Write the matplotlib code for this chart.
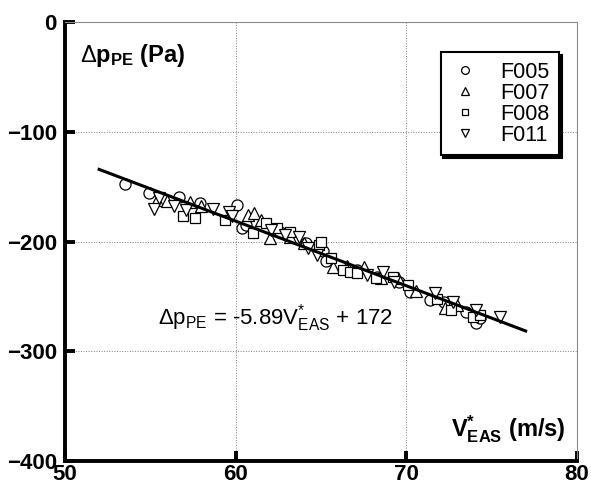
import numpy as np
import matplotlib
matplotlib.use('Agg')
import matplotlib.pyplot as plt

plt.rcParams['font.family'] = ['Liberation Sans', 'DejaVu Sans']
plt.rcParams['mathtext.fontset'] = 'custom'
plt.rcParams['mathtext.rm'] = 'Liberation Sans'
plt.rcParams['mathtext.it'] = 'Liberation Sans'
plt.rcParams['mathtext.bf'] = 'Liberation Sans:bold'

# flight data: V*_EAS (m/s), delta p_PE (Pa)
f005_v = [53.5, 54.9, 56.7, 57.9, 60.1, 60.35, 60.6, 62.6, 64.15, 65.1, 65.3,
          67.1, 68.3, 69.6, 70.2, 71.4, 72.2, 73.5, 74.1, 74.3]
f005_p = [-148, -156, -159, -165, -167, -188, -185, -191, -201.6, -209, -218,
          -226, -232, -237, -245.7, -253, -255, -264, -274.5, -270]

f007_v = [55.4, 56.0, 57.3, 58.0, 60.7, 61.1, 61.5, 62.0, 63.2, 64.0, 65.7,
          66.5, 67.5, 68.5, 69.5, 70.6, 72.3, 73.0, 74.0]
f007_p = [-162, -163, -164, -168, -176, -174, -180, -197, -196, -201, -223,
          -222, -223, -233, -233.5, -245, -261, -258, -265]

f008_v = [56.9, 57.6, 59.4, 61.0, 61.8, 62.4, 63.2, 64.9, 65.0, 65.6, 66.3,
          66.7, 67.1, 68.2, 69.2, 70.1, 71.8, 72.65, 73.9, 74.3]
f008_p = [-177, -179, -180, -192.6, -183, -188, -191, -203, -200, -215, -226,
          -227.5, -229, -233.5, -232, -239.6, -252, -262, -268.5, -267]

f011_v = [55.2, 55.5, 56.4, 57.1, 58.7, 59.6, 59.8, 62.1, 62.9, 63.7, 64.25,
          64.75, 67.7, 68.65, 69.3, 71.7, 72.75, 74.1, 75.5]
f011_p = [-170, -160, -168, -171, -170, -173, -177, -189.5, -194, -196, -206,
          -212, -230.5, -227.5, -236.6, -247, -255, -262, -268.5]

# linear fit shown on the chart
fit_slope = -5.89
fit_icept = 172
fit_v = np.array([52.0, 77.0])

fig = plt.figure(figsize=(5.91, 4.87), dpi=100)
ax = fig.add_axes([0.110, 0.0534, 0.866, 0.9014])

ms = 8
mew = 0.9
ax.plot(f005_v, f005_p, 'o', ms=ms, mfc='white', mec='k', mew=mew, label='F005', zorder=3)
ax.plot(f007_v, f007_p, '^', ms=ms, mfc='white', mec='k', mew=mew, label='F007', zorder=3)
ax.plot(f008_v, f008_p, 's', ms=ms - 1, mfc='white', mec='k', mew=mew, label='F008', zorder=3)
ax.plot(f011_v, f011_p, 'v', ms=ms, mfc='white', mec='k', mew=mew, label='F011', zorder=3)
ax.plot(fit_v, fit_slope * fit_v + fit_icept, 'k-', lw=2.2, zorder=4)

ax.set_xlim(50, 80)
ax.set_ylim(-400, 0)
ax.set_xticks([50, 60, 70, 80])
ax.set_yticks([-400, -300, -200, -100, 0])
ax.grid(True, ls=':', color='0.5', lw=0.7)

for s in ['left', 'bottom']:
    ax.spines[s].set_linewidth(2.8)
for s in ['top', 'right']:
    ax.spines[s].set_linewidth(0.8)
    ax.spines[s].set_color('0.55')

ax.tick_params(direction='in', length=7, width=2.8, labelsize=16)
ax.tick_params(axis='y', pad=6)
ax.tick_params(axis='x', pad=2)
ax.tick_params(top=False, right=False)
for lbl in ax.get_xticklabels() + ax.get_yticklabels():
    lbl.set_fontweight('bold')

ax.text(0.029, 0.909, r'$\Delta$p$_{\mathbf{PE}}$ (Pa)', transform=ax.transAxes,
        fontsize=17, fontweight='bold', ha='left', va='baseline')
ax.text(0.977, 0.055, r'V$^{\mathbf{*}}_{\mathbf{EAS}}$ (m/s)', transform=ax.transAxes,
        fontsize=17, fontweight='bold', ha='right', va='baseline')
ax.text(0.182, 0.310, r'$\Delta$p$_{\rm PE}$ = -5.89V$^{*}_{\rm EAS}$ + 172',
        transform=ax.transAxes, fontsize=16, ha='left', va='baseline')

leg = ax.legend(loc='upper right', bbox_to_anchor=(0.965, 0.932), borderaxespad=0,
                fontsize=15.5, markerscale=0.7, labelspacing=0.0, handletextpad=0.9,
                handlelength=1.4, borderpad=0.45, fancybox=False,
                shadow={'color': 'k', 'alpha': 1, 'ox': 2, 'oy': -2}, framealpha=1)
leg.get_frame().set_edgecolor('k')
leg.get_frame().set_linewidth(1.5)

fig.savefig('out.png', dpi=100)
